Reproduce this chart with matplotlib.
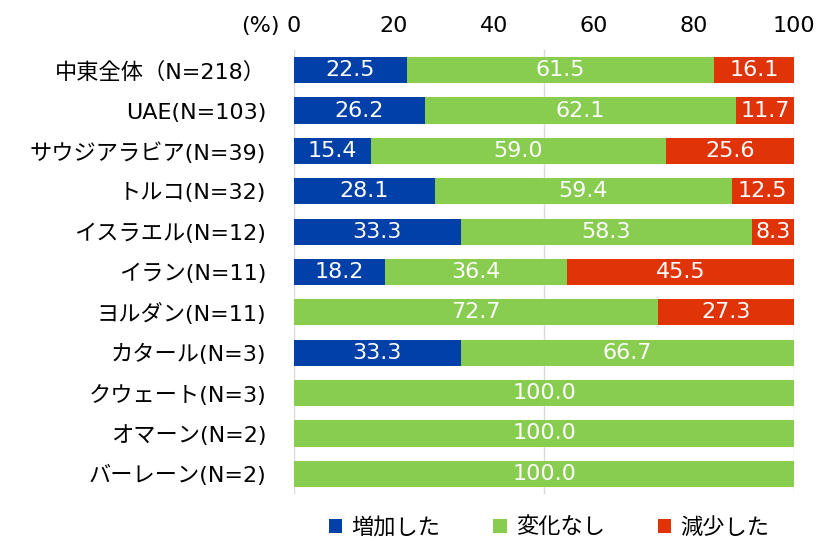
import matplotlib.pyplot as plt
import numpy as np

plt.rcParams['font.family'] = ['DejaVu Sans', 'Noto Sans CJK JP']

categories = ["中東全体（N=218）", "UAE(N=103)", "サウジアラビア(N=39)", "トルコ(N=32)",
              "イスラエル(N=12)", "イラン(N=11)", "ヨルダン(N=11)", "カタール(N=3)",
              "クウェート(N=3)", "オマーン(N=2)", "バーレーン(N=2)"]
increased = [22.5, 26.2, 15.4, 28.1, 33.3, 18.2, 0, 33.3, 0, 0, 0]
unchanged = [61.5, 62.1, 59.0, 59.4, 58.3, 36.4, 72.7, 66.7, 100.0, 100.0, 100.0]
decreased = [16.1, 11.7, 25.6, 12.5, 8.3, 45.5, 27.3, 0, 0, 0, 0]
series_names = ["増加した", "変化なし", "減少した"]
colors = ["#0040A8", "#88CC50", "#E03408"]

fig = plt.figure(figsize=(8.21, 5.41), dpi=100)
ax = fig.add_axes([294 / 821, 1 - 494 / 541, 500 / 821, 444 / 541])

y = np.arange(len(categories))
left = np.zeros(len(categories))
for vals, name, c in zip([increased, unchanged, decreased], series_names, colors):
    vals = np.array(vals)
    ax.barh(y, vals, left=left, height=0.65, color=c, label=name, zorder=3)
    for yi, (l, v) in enumerate(zip(left, vals)):
        if v > 0:
            ax.text(l + v / 2, yi, f"{v:.1f}", ha="center", va="center",
                    color="white", fontsize=16, zorder=4)
    left += vals

ax.set_xlim(0, 100)
ax.set_ylim(len(categories) - 0.5, -0.5)
ax.set_yticks(y)
ax.set_yticklabels(categories, fontsize=16)
ax.set_xticks([0, 20, 40, 60, 80, 100])
ax.xaxis.tick_top()
ax.tick_params(axis="x", labelsize=16, length=0, pad=10)
ax.tick_params(axis="y", length=0, pad=20)
for s in ax.spines.values():
    s.set_visible(False)
for gx in [0, 50, 100]:
    ax.axvline(gx, color="#D9D9D9", lw=1, zorder=1)
fig.text(280 / 821, 1 - 26 / 541, "(%)", ha="right", va="center", fontsize=16)

ax.legend(loc="center", bbox_to_anchor=(0.51, (527 - 494) / -444), ncol=3, frameon=False,
          fontsize=16, handlelength=0.6, handleheight=0.6, columnspacing=2.4,
          handletextpad=0.4)

fig.savefig("out.png", dpi=100)
